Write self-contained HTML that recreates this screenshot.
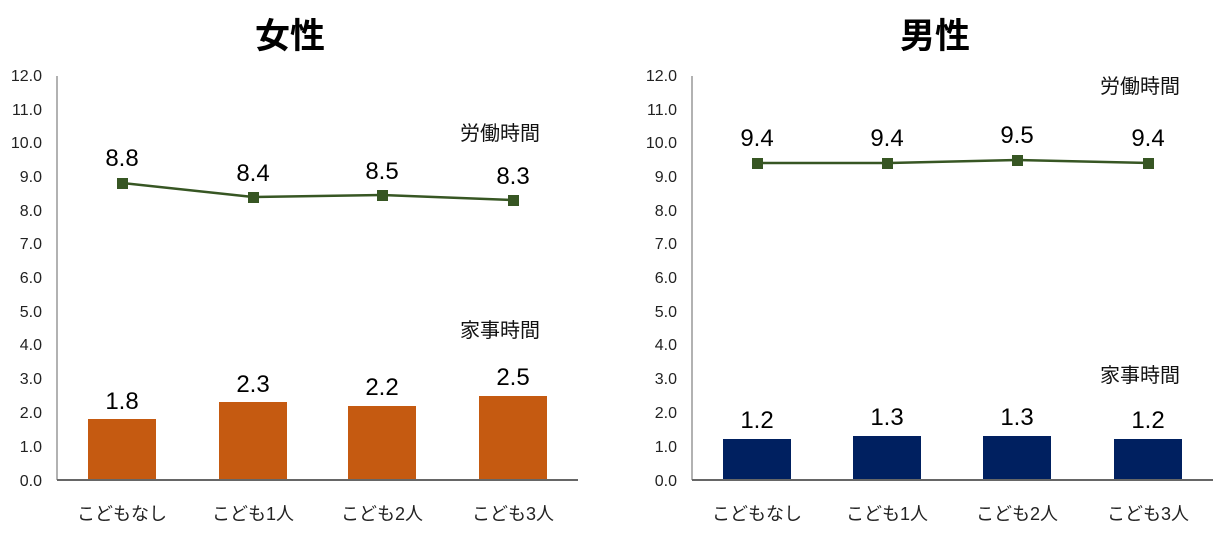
<!DOCTYPE html>
<html><head><meta charset="utf-8"><style>body{margin:0;background:#fff}svg{display:block}</style></head><body>
<svg width="1224" height="536" xmlns="http://www.w3.org/2000/svg" font-family="'Liberation Sans','Noto Sans CJK JP',sans-serif">
<rect width="1224" height="536" fill="#fff"/>
<g font-size="35" font-weight="bold" text-anchor="middle" fill="#000">
<text x="290" y="48">女性</text><text x="935" y="48">男性</text></g>
<g font-size="16" text-anchor="end" fill="#222">
<text x="42" y="81">12.0</text><text x="42" y="115">11.0</text><text x="42" y="148">10.0</text><text x="42" y="182">9.0</text><text x="42" y="216">8.0</text><text x="42" y="249">7.0</text><text x="42" y="283">6.0</text><text x="42" y="317">5.0</text><text x="42" y="350">4.0</text><text x="42" y="384">3.0</text><text x="42" y="418">2.0</text><text x="42" y="452">1.0</text><text x="42" y="486">0.0</text>
<text x="677" y="81">12.0</text><text x="677" y="115">11.0</text><text x="677" y="148">10.0</text><text x="677" y="182">9.0</text><text x="677" y="216">8.0</text><text x="677" y="249">7.0</text><text x="677" y="283">6.0</text><text x="677" y="317">5.0</text><text x="677" y="350">4.0</text><text x="677" y="384">3.0</text><text x="677" y="418">2.0</text><text x="677" y="452">1.0</text><text x="677" y="486">0.0</text>
</g>
<g stroke="#999" stroke-width="1.5"><line x1="57" y1="76" x2="57" y2="480"/><line x1="692" y1="76" x2="692" y2="480"/></g>
<g fill="#C55A11"><rect x="88" y="419" width="68" height="61"/><rect x="219" y="402" width="68" height="78"/><rect x="348" y="406" width="68" height="74"/><rect x="479" y="396" width="68" height="84"/></g>
<g fill="#002060"><rect x="723" y="439" width="68" height="41"/><rect x="853" y="436" width="68" height="44"/><rect x="983" y="436" width="68" height="44"/><rect x="1114" y="439" width="68" height="41"/></g>
<g stroke="#666" stroke-width="2"><line x1="57" y1="480" x2="578" y2="480"/><line x1="692" y1="480" x2="1213" y2="480"/></g>
<polyline points="122,183 253,197 382,195 513,200" fill="none" stroke="#375623" stroke-width="2.5"/>
<polyline points="757,163 887,163 1017,160 1148,163" fill="none" stroke="#375623" stroke-width="2.5"/>
<g fill="#375623"><rect x="117" y="178" width="11" height="11"/><rect x="248" y="192" width="11" height="11"/><rect x="377" y="190" width="11" height="11"/><rect x="508" y="195" width="11" height="11"/>
<rect x="752" y="158" width="11" height="11"/><rect x="882" y="158" width="11" height="11"/><rect x="1012" y="155" width="11" height="11"/><rect x="1143" y="158" width="11" height="11"/></g>
<g font-size="24" text-anchor="middle" fill="#000">
<text x="122" y="166">8.8</text><text x="253" y="181">8.4</text><text x="382" y="179">8.5</text><text x="513" y="184">8.3</text>
<text x="122" y="409">1.8</text><text x="253" y="392">2.3</text><text x="382" y="395">2.2</text><text x="513" y="385">2.5</text>
<text x="757" y="146">9.4</text><text x="887" y="146">9.4</text><text x="1017" y="143">9.5</text><text x="1148" y="146">9.4</text>
<text x="757" y="428">1.2</text><text x="887" y="425">1.3</text><text x="1017" y="425">1.3</text><text x="1148" y="428">1.2</text>
</g>
<g font-size="20" fill="#111" text-anchor="middle">
<text x="500" y="140">労働時間</text><text x="500" y="337">家事時間</text>
<text x="1140" y="93">労働時間</text><text x="1140" y="382">家事時間</text></g>
<g font-size="18" fill="#222" text-anchor="middle">
<text x="122" y="520">こどもなし</text><text x="253" y="520">こども1人</text><text x="382" y="520">こども2人</text><text x="513" y="520">こども3人</text>
<text x="757" y="520">こどもなし</text><text x="887" y="520">こども1人</text><text x="1017" y="520">こども2人</text><text x="1148" y="520">こども3人</text></g>
</svg></body></html>
